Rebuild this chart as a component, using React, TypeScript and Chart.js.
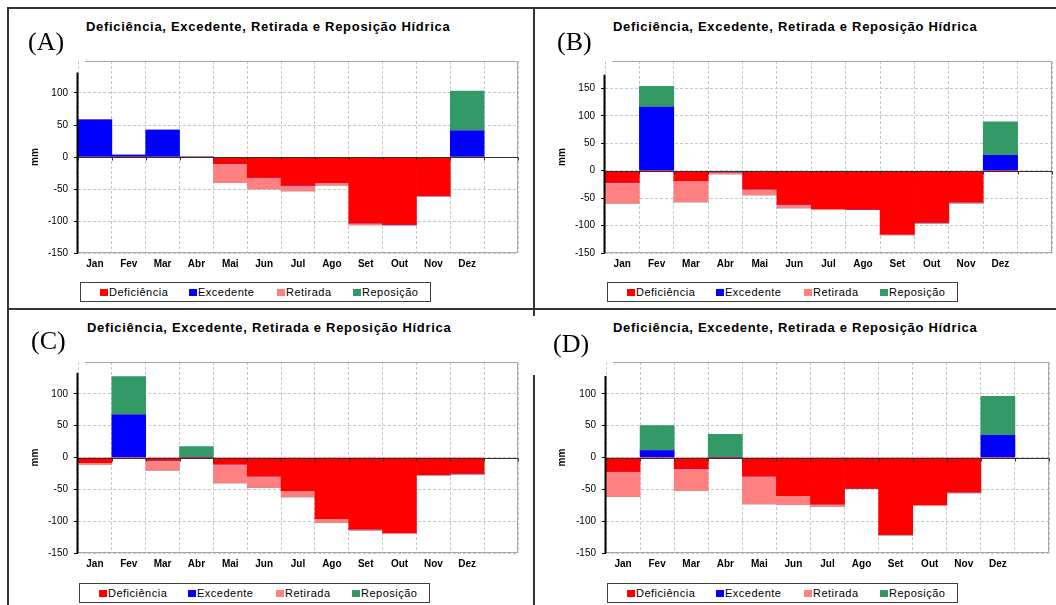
import React, { useEffect, useRef } from 'react';
import { Chart, registerables } from 'chart.js';

Chart.register(...registerables);

const months = ['Jan', 'Fev', 'Mar', 'Abr', 'Mai', 'Jun', 'Jul', 'Ago', 'Set', 'Out', 'Nov', 'Dez', ''];
const seriesNames = ['Deficiência', 'Excedente', 'Retirada', 'Reposição'];
const seriesColors = ['#ff0000', '#0000ff', '#ff8080', '#339966'];
const chartTitle = 'Deficiência, Excedente, Retirada e Reposição Hídrica';

// Panel A
const defA = [0, 0, 0, 0, -10, -32, -44, -40, -103, -105, -60, 0];
const excA = [58, 3, 42, 0, 0, 0, 0, 0, 0, 0, 0, 41];
const retA = [0, 0, 0, 0, -30, -18, -9, -4, -3, -1.5, -1.5, 0];
const repA = [0, 0, 0, 0, 0, 0, 0, 0, 0, 0, 0, 62];

// Panel B
const defB = [-21, 0, -18, -2, -33, -61, -69, -70, -115, -94, -57, 0];
const excB = [0, 116, 0, 0, 0, 0, 0, 0, 0, 0, 0, 28];
const retB = [-38, 0, -39, -4, -11, -7, -2, -1, -2, -2, -2, 0];
const repB = [0, 38, 0, 0, 0, 0, 0, 0, 0, 0, 0, 61];

// Panel C
const defC = [-8, 0, -4, 0, -10, -29, -52, -96, -112, -118, -26.5, -24.5];
const excC = [0, 67, 0, 0, 0, 0, 0, 0, 0, 0, 0, 0];
const retC = [-3, 0, -16, 0, -30, -18, -10, -6, -2, -1.5, -2, -2];
const repC = [0, 60, 0, 17, 0, 0, 0, 0, 0, 0, 0, 0];

// Panel D
const defD = [-22, 0, -17, 0, -29, -60, -73, -48, -121, -74, -54, 0];
const excD = [0, 11, 0, 0, 0, 0, 0, 0, 0, 0, 0, 35];
const retD = [-39, 0, -35, 0, -44, -14, -4, -1, -1, -1.5, -1.5, 0];
const repD = [0, 39, 0, 36.5, 0, 0, 0, 0, 0, 0, 0, 61];

// y-axis ranges
const yMinAll = -150;
const yMaxs = [150, 200, 150, 150];
const yTickMaxs = [100, 150, 100, 100];
const yAxisTops = [132, 175, 133, 128];

const SANS = '"Liberation Sans", Arial, sans-serif';
const SERIF = '"Liberation Serif", "Times New Roman", serif';

const framePlugin = {
  id: 'frame',
  afterDatasetsDraw(chart: any, _args: any, opts: any) {
    const { ctx, chartArea, scales } = chart;
    const { left, right, top, bottom } = chartArea;
    const y = scales.y;
    ctx.save();
    // gray plot frame
    ctx.strokeStyle = '#a8a8a8';
    ctx.lineWidth = 1;
    ctx.beginPath();
    ctx.moveTo(left + 7, top + 0.5);
    ctx.lineTo(right - 0.5, top + 0.5);
    ctx.lineTo(right - 0.5, bottom - 0.5);
    ctx.lineTo(left, bottom - 0.5);
    ctx.stroke();
    // zero line
    const y0 = Math.round(y.getPixelForValue(0)) + 0.5;
    ctx.strokeStyle = '#303030';
    ctx.beginPath();
    ctx.moveTo(left, y0);
    ctx.lineTo(right, y0);
    ctx.stroke();
    // small ticks on zero line
    const n = chart.data.labels.length;
    const step = (right - left) / n;
    ctx.beginPath();
    for (let i = 0; i <= n; i++) {
      const px = Math.round(left + i * step) + 0.5;
      ctx.moveTo(px, y0);
      ctx.lineTo(px, y0 + 3);
    }
    ctx.stroke();
    // y axis line
    ctx.strokeStyle = '#000';
    ctx.lineWidth = 2;
    ctx.beginPath();
    ctx.moveTo(left - 0.5, bottom);
    ctx.lineTo(left - 0.5, y.getPixelForValue(opts.axisTop));
    ctx.stroke();
    ctx.restore();
  },
};

type PanelProps = {
  def: number[];
  exc: number[];
  ret: number[];
  rep: number[];
  yMax: number;
  tickMax: number;
  axisTop: number;
  left: number;
  top: number;
  width: number;
  height: number;
  padRight: number;
  yw: number;
  xh: number;
  titlePad: number;
};

function Panel(p: PanelProps) {
  const ref = useRef<HTMLCanvasElement>(null);
  useEffect(() => {
    const chart = new Chart(ref.current as HTMLCanvasElement, {
      type: 'bar',
      data: {
        labels: months,
        datasets: [
          { label: seriesNames[0], data: p.def, backgroundColor: seriesColors[0] },
          { label: seriesNames[1], data: p.exc, backgroundColor: seriesColors[1] },
          { label: seriesNames[2], data: p.ret, backgroundColor: seriesColors[2] },
          { label: seriesNames[3], data: p.rep, backgroundColor: seriesColors[3] },
        ],
      },
      options: {
        animation: false,
        responsive: false,
        maintainAspectRatio: false,
        layout: { padding: { top: 5, right: p.padRight, left: 0, bottom: 0 } },
        datasets: { bar: { barPercentage: 1, categoryPercentage: 1, borderWidth: 0 } },
        plugins: {
          legend: { display: false },
          title: { display: false },
          tooltip: { enabled: false },
          frame: { axisTop: p.axisTop },
        } as any,
        scales: {
          x: {
            stacked: true,
            grid: { offset: true, color: '#c8c8c8', drawTicks: false },
            border: { display: false, dash: [3, 2] },
            ticks: {
              autoSkip: false,
              maxRotation: 0,
              minRotation: 0,
              padding: 5,
              color: '#000',
              font: { family: SANS, size: 10, weight: 'bold' },
            },
            afterFit: (s: any) => {
              s.height = p.xh;
            },
          },
          y: {
            stacked: true,
            min: yMinAll,
            max: p.yMax,
            ticks: {
              stepSize: 50,
              padding: 6,
              color: '#000',
              font: { family: SANS, size: 10 },
            },
            afterBuildTicks: (s: any) => {
              s.ticks = s.ticks.filter((t: any) => t.value <= p.tickMax);
            },
            grid: { color: '#c8c8c8', tickColor: '#000', tickLength: 4 },
            border: { display: false, dash: [3, 2] },
            title: {
              display: true,
              text: 'mm',
              color: '#000',
              font: { family: SANS, size: 10, weight: 'bold' },
              padding: { top: p.titlePad, bottom: 0 },
            },
            afterFit: (s: any) => {
              s.width = p.yw;
            },
          },
        },
      } as any,
      plugins: [framePlugin],
    });
    return () => chart.destroy();
  }, []);
  return (
    <canvas
      ref={ref}
      width={p.width}
      height={p.height}
      style={{ position: 'absolute', left: p.left, top: p.top, width: p.width, height: p.height }}
    />
  );
}

const legendOffsets = [20, 109, 197, 273];

function Legend({ left, top }: { left: number; top: number }) {
  return (
    <div
      style={{
        position: 'absolute',
        left,
        top,
        width: 351,
        height: 20,
        border: '1px solid #404040',
        background: '#fff',
        boxSizing: 'border-box',
      }}
    >
      {seriesNames.map((n, i) => (
        <div key={n} style={{ position: 'absolute', left: legendOffsets[i] - 1, top: 0, height: 18, display: 'flex', alignItems: 'center' }}>
          <div style={{ width: 8, height: 7, background: seriesColors[i], marginRight: 1 }} />
          <span style={{ font: `11px ${SANS}`, letterSpacing: '0.5px', color: '#000', lineHeight: '18px' }}>{n}</span>
        </div>
      ))}
    </div>
  );
}

function Text({ x, y, text, font }: { x: number; y: number; text: string; font: string }) {
  return (
    <div
      style={{
        position: 'absolute',
        left: x,
        top: y,
        transform: 'translateY(-50%)',
        font,
        lineHeight: 1,
        whiteSpace: 'nowrap',
        color: '#000',
      }}
    >
      {text}
    </div>
  );
}

const line = (l: number, t: number, w: number, h: number) => (
  <div style={{ position: 'absolute', left: l, top: t, width: w, height: h, background: '#333' }} />
);

export default function App() {
  const titleFont = `bold 13px ${SANS}`;
  const labelFont = `26px ${SERIF}`;
  return (
    <div style={{ position: 'fixed', left: 0, top: 0, width: 1056, height: 605, overflow: 'hidden', background: '#fff' }}>
      <Panel def={defA} exc={excA} ret={retA} rep={repA} yMax={yMaxs[0]} tickMax={yTickMaxs[0]} axisTop={yAxisTops[0]}
        left={8} top={49} width={515} height={227} padRight={5} yw={70} xh={23} titlePad={21} />
      <Panel def={defB} exc={excB} ret={retB} rep={repB} yMax={yMaxs[1]} tickMax={yTickMaxs[1]} axisTop={yAxisTops[1]}
        left={536} top={49} width={520} height={227} padRight={4} yw={69} xh={23} titlePad={20} />
      <Panel def={defC} exc={excC} ret={retC} rep={repC} yMax={yMaxs[2]} tickMax={yTickMaxs[2]} axisTop={yAxisTops[2]}
        left={8} top={350} width={515} height={227} padRight={5} yw={70} xh={24} titlePad={21} />
      <Panel def={defD} exc={excD} ret={retD} rep={repD} yMax={yMaxs[3]} tickMax={yTickMaxs[3]} axisTop={yAxisTops[3]}
        left={536} top={350} width={518} height={227} padRight={5} yw={70} xh={24} titlePad={20} />

      {line(8, 7, 1048, 2)}
      {line(7, 7, 2, 598)}
      {line(533, 7, 2, 309)}
      {line(533, 375, 2, 230)}
      {line(8, 308, 1048, 2)}

      <div style={{ letterSpacing: '0.7px' }}>
        <Text x={86} y={26} text={chartTitle} font={titleFont} />
        <Text x={613} y={26} text={chartTitle} font={titleFont} />
        <Text x={87} y={327} text={chartTitle} font={titleFont} />
        <Text x={613} y={327} text={chartTitle} font={titleFont} />
      </div>
      <Text x={28} y={42} text="(A)" font={labelFont} />
      <Text x={557} y={42} text="(B)" font={labelFont} />
      <Text x={31} y={341} text="(C)" font={labelFont} />
      <Text x={553} y={344} text="(D)" font={labelFont} />

      <Legend left={80} top={282} />
      <Legend left={607} top={282} />
      <Legend left={79} top={583} />
      <Legend left={607} top={583} />
    </div>
  );
}
